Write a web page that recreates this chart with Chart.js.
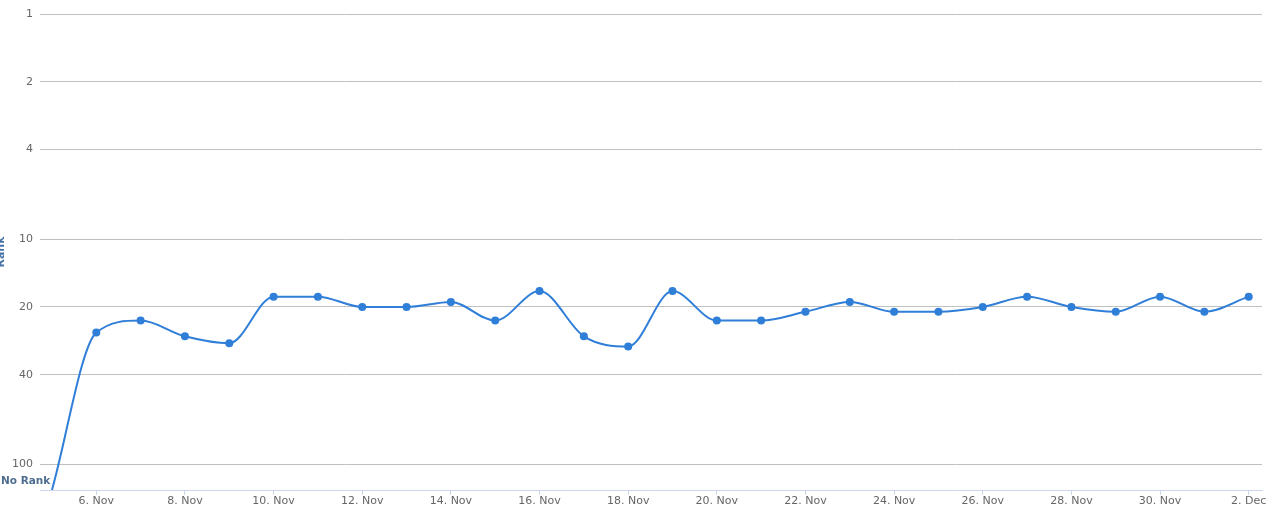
<!DOCTYPE html>
<html>
<head>
<meta charset="utf-8">
<script src="https://cdn.jsdelivr.net/npm/chart.js@4/dist/chart.umd.min.js"></script>
<style>
  html, body { margin: 0; padding: 0; background: #fff; }
  #wrap { width: 1287px; height: 514px; }
</style>
</head>
<body>
<div id="wrap"><canvas id="rank-chart"></canvas></div>
<script>
// day labels, 5 Nov .. 2 Dec
var days = ['5. Nov', '6. Nov', '7. Nov', '8. Nov', '9. Nov', '10. Nov', '11. Nov', '12. Nov',
    '13. Nov', '14. Nov', '15. Nov', '16. Nov', '17. Nov', '18. Nov', '19. Nov', '20. Nov',
    '21. Nov', '22. Nov', '23. Nov', '24. Nov', '25. Nov', '26. Nov', '27. Nov', '28. Nov',
    '29. Nov', '30. Nov', '1. Dec', '2. Dec'];

// rank per day (130 = no rank)
var NO_RANK = 130;
var ranks = [NO_RANK, 26, 23, 27, 29, 18, 18, 20, 20, 19, 23, 17, 27, 30, 17, 23,
    23, 21, 19, 21, 21, 20, 18, 20, 21, 18, 21, 18];

// axis ticks
var rankTicks = [1, 2, 4, 10, 20, 40, 100, NO_RANK];
var dayTicks = [1, 3, 5, 7, 9, 11, 13, 15, 17, 19, 21, 23, 25, 27];

function getPoints() {
    var points = [];
    for (var i = 0; i < ranks.length; i++) {
        points.push({ x: i, y: ranks[i] });
    }
    return points;
}

// draws "No Rank" label and the cut-off axis title
var extraLabels = {
    id: 'extraLabels',
    afterDraw: function (chart) {
        var c = chart.ctx;
        var y = chart.scales.y.getPixelForValue(NO_RANK);
        c.save();
        c.font = 'bold 10.5px "DejaVu Sans"';
        c.fillStyle = '#4d6d8f';
        c.textAlign = 'left';
        c.textBaseline = 'middle';
        c.fillText('No Rank', 1, y - 9);

        c.font = 'bold 11px "DejaVu Sans"';
        c.translate(4, 252);
        c.rotate(-Math.PI / 2);
        c.fillStyle = '#4572a7';
        c.textAlign = 'center';
        c.textBaseline = 'alphabetic';
        c.fillText('Rank', 0, 0);
        c.restore();
    }
};

var ctx = document.getElementById('rank-chart').getContext('2d');
var rankChart = new Chart(ctx, {
    type: 'line',
    data: {
        datasets: [{
            data: getPoints(),
            borderColor: '#2f7ed8',
            backgroundColor: '#2f7ed8',
            borderWidth: 2,
            pointRadius: ranks.map(function (r) { return r === NO_RANK ? 0 : 4; }),
            pointHoverRadius: 4,
            pointBorderWidth: 0,
            cubicInterpolationMode: 'monotone',
            fill: false
        }]
    },
    options: {
        responsive: true,
        maintainAspectRatio: false,
        animation: false,
        layout: { padding: { top: 14, right: 25, left: 0, bottom: 0 } },
        plugins: {
            legend: { display: false },
            tooltip: { enabled: false }
        },
        scales: {
            x: {
                type: 'linear',
                min: -0.27,
                max: 27.3,
                afterBuildTicks: function (scale) {
                    scale.ticks = dayTicks.map(function (v) { return { value: v }; });
                },
                afterFit: function (scale) { scale.height = 24; },
                ticks: {
                    autoSkip: false,
                    maxRotation: 0,
                    padding: 0,
                    color: '#666',
                    font: { family: '"DejaVu Sans"', size: 11 },
                    callback: function (v) { return days[v]; }
                },
                grid: {
                    drawOnChartArea: false,
                    drawTicks: true,
                    tickLength: 5,
                    color: '#ccd6eb'
                },
                border: { color: '#ccd6eb', width: 1 }
            },
            y: {
                type: 'logarithmic',
                reverse: true,
                min: 1,
                max: NO_RANK,
                afterBuildTicks: function (scale) {
                    scale.ticks = rankTicks.map(function (v) { return { value: v }; });
                },
                afterFit: function (scale) { scale.width = 40; },
                ticks: {
                    autoSkip: false,
                    padding: 7,
                    color: '#666',
                    font: { family: '"DejaVu Sans"', size: 11 },
                    callback: function (v) { return v === NO_RANK ? '' : String(v); }
                },
                grid: {
                    drawTicks: false,
                    color: function (c) {
                        return c.tick && c.tick.value === NO_RANK ? 'rgba(0,0,0,0)' : '#c0c0c0';
                    }
                },
                border: { display: false }
            }
        }
    },
    plugins: [extraLabels]
});
</script>
</body>
</html>
